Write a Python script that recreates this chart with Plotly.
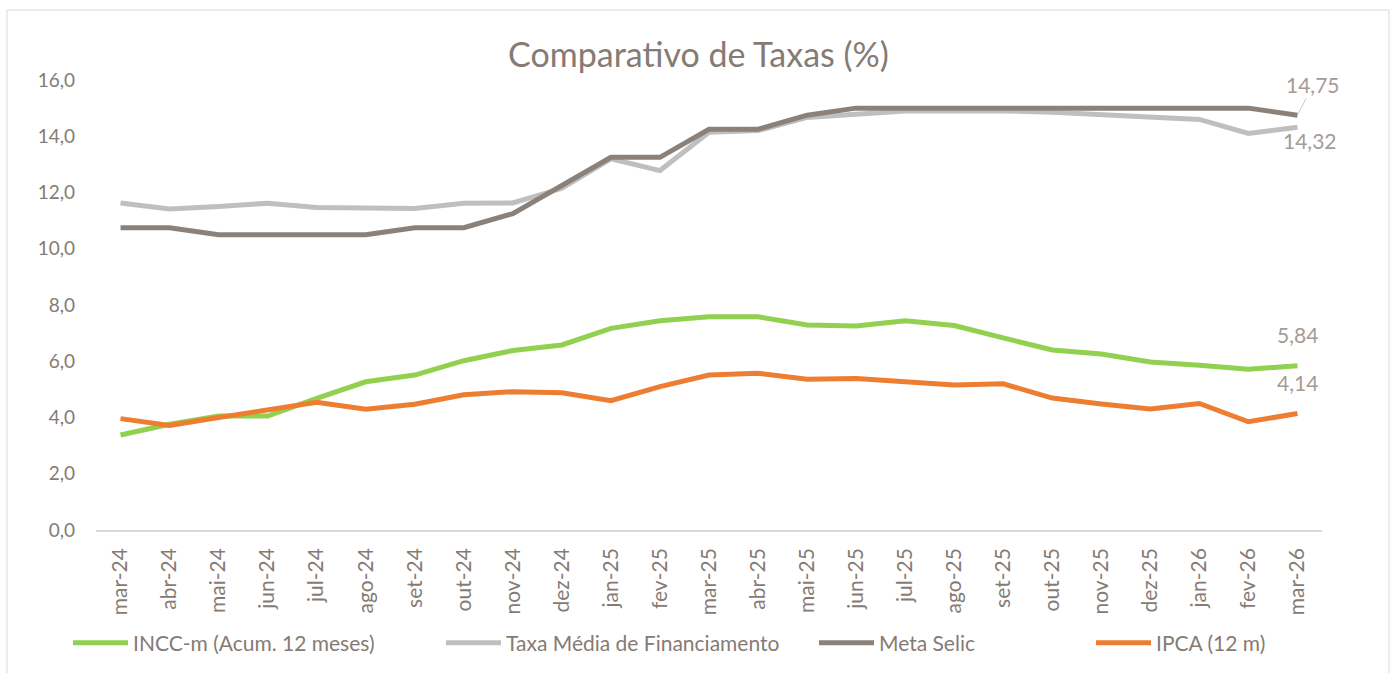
import plotly.graph_objects as go

months = ["mar-24", "abr-24", "mai-24", "jun-24", "jul-24", "ago-24", "set-24", "out-24",
          "nov-24", "dez-24", "jan-25", "fev-25", "mar-25", "abr-25", "mai-25", "jun-25",
          "jul-25", "ago-25", "set-25", "out-25", "nov-25", "dez-25", "jan-26", "fev-26", "mar-26"]

incc = [3.38, 3.76, 4.05, 4.05, 4.68, 5.27, 5.51, 6.02, 6.38, 6.58, 7.17, 7.44, 7.58, 7.58,
        7.29, 7.25, 7.44, 7.27, 6.83, 6.40, 6.26, 5.97, 5.86, 5.72, 5.84]
taxa = [11.63, 11.41, 11.50, 11.62, 11.47, 11.47, 11.43, 11.62, 11.63, 12.15, 13.20, 12.78,
        14.14, 14.20, 14.67, 14.78, 14.90, 14.90, 14.90, 14.85, 14.76, 14.70, 14.60, 14.10, 14.32]
selic = [10.75, 10.75, 10.50, 10.50, 10.50, 10.50, 10.75, 10.75, 11.25, 12.25, 13.25, 13.25,
         14.25, 14.25, 14.75, 15.00, 15.00, 15.00, 15.00, 15.00, 15.00, 15.00, 15.00, 15.00, 14.75]
ipca = [3.96, 3.72, 4.00, 4.27, 4.54, 4.29, 4.47, 4.81, 4.92, 4.88, 4.60, 5.10, 5.51, 5.57,
        5.36, 5.39, 5.27, 5.16, 5.20, 4.69, 4.48, 4.30, 4.50, 3.85, 4.14]

names = ["INCC-m (Acum. 12 meses)", "Taxa Média de Financiamento", "Meta Selic", "IPCA (12 m)"]
colors = ["#92D050", "#BFBFBF", "#8C8179", "#ED7D31"]

TXT = "#857B74"
LBL = "#A39B94"
FONT = "Lato"

fig = go.Figure()
series = [incc, taxa, selic, ipca]
for i, (vals, nm, col) in enumerate(zip(series, names, colors)):
    fig.add_trace(go.Scatter(
        x=months, y=vals, name=nm, mode="lines",
        line=dict(color=col, width=5),
        legend="legend" if i < 3 else "legend2",
        hoverinfo="skip",
    ))

last = months[-1]
ann = []
ann.append(dict(x=last, y=selic[-1], xref="x", yref="y", text="14,75", showarrow=True,
                ax=16, ay=-31, arrowhead=0, arrowwidth=1, arrowcolor="#D0CCC8",
                font=dict(family=FONT, size=21, color=LBL), standoff=2))
ann.append(dict(x=last, y=taxa[-1], xref="x", yref="y", text="14,32", showarrow=False,
                xshift=13, yshift=-13, font=dict(family=FONT, size=21, color=LBL)))
ann.append(dict(x=last, y=incc[-1], xref="x", yref="y", text="5,84", showarrow=False,
                yshift=31, font=dict(family=FONT, size=21, color=LBL)))
ann.append(dict(x=last, y=ipca[-1], xref="x", yref="y", text="4,14", showarrow=False,
                yshift=31, font=dict(family=FONT, size=21, color=LBL)))

fig.update_layout(
    width=1397, height=673,
    margin=dict(l=96, r=75, t=80, b=143),
    paper_bgcolor="white", plot_bgcolor="white",
    separators=",.",
    font=dict(family=FONT, color=TXT, size=20),
    title=dict(text="Comparativo de Taxas (%)", x=0.5, xref="container", xanchor="center",
               y=1 - 55 / 673, yanchor="middle",
               font=dict(family=FONT, size=34, color=TXT)),
    xaxis=dict(type="category", range=[-0.5, 24.5], showgrid=False, zeroline=False,
               showline=True, linecolor="#D9D9D9", linewidth=1.5, automargin=False,
               tickangle=-90, ticks="", ticklabelstandoff=8,
               tickfont=dict(family=FONT, size=21, color=TXT)),
    yaxis=dict(range=[0, 16], dtick=2, tickformat=".1f", showgrid=False, zeroline=False,
               showline=False, ticks="", ticklabelstandoff=20, automargin=False,
               tickfont=dict(family=FONT, size=19, color=TXT)),
    legend=dict(orientation="h", xref="container", yref="container",
                x=68 / 1397, xanchor="left", y=1 - 643 / 673, yanchor="middle",
                entrywidth=303, entrywidthmode="pixels",
                font=dict(family=FONT, size=21, color=TXT), itemwidth=55,
                bgcolor="rgba(0,0,0,0)"),
    legend2=dict(orientation="h", xref="container", yref="container",
                 x=1091 / 1397, xanchor="left", y=1 - 643 / 673, yanchor="middle",
                 font=dict(family=FONT, size=21, color=TXT), itemwidth=55,
                 bgcolor="rgba(0,0,0,0)"),
    annotations=ann,
    shapes=[dict(type="rect", xref="paper", yref="paper",
                 x0=(7 - 96) / 1226, x1=(1389 - 96) / 1226,
                 y0=(530 - 700) / 450, y1=(530 - 10) / 450,
                 line=dict(color="#D9D9D9", width=1), fillcolor="rgba(0,0,0,0)", layer="below")],
)

fig.write_html("out.html")
